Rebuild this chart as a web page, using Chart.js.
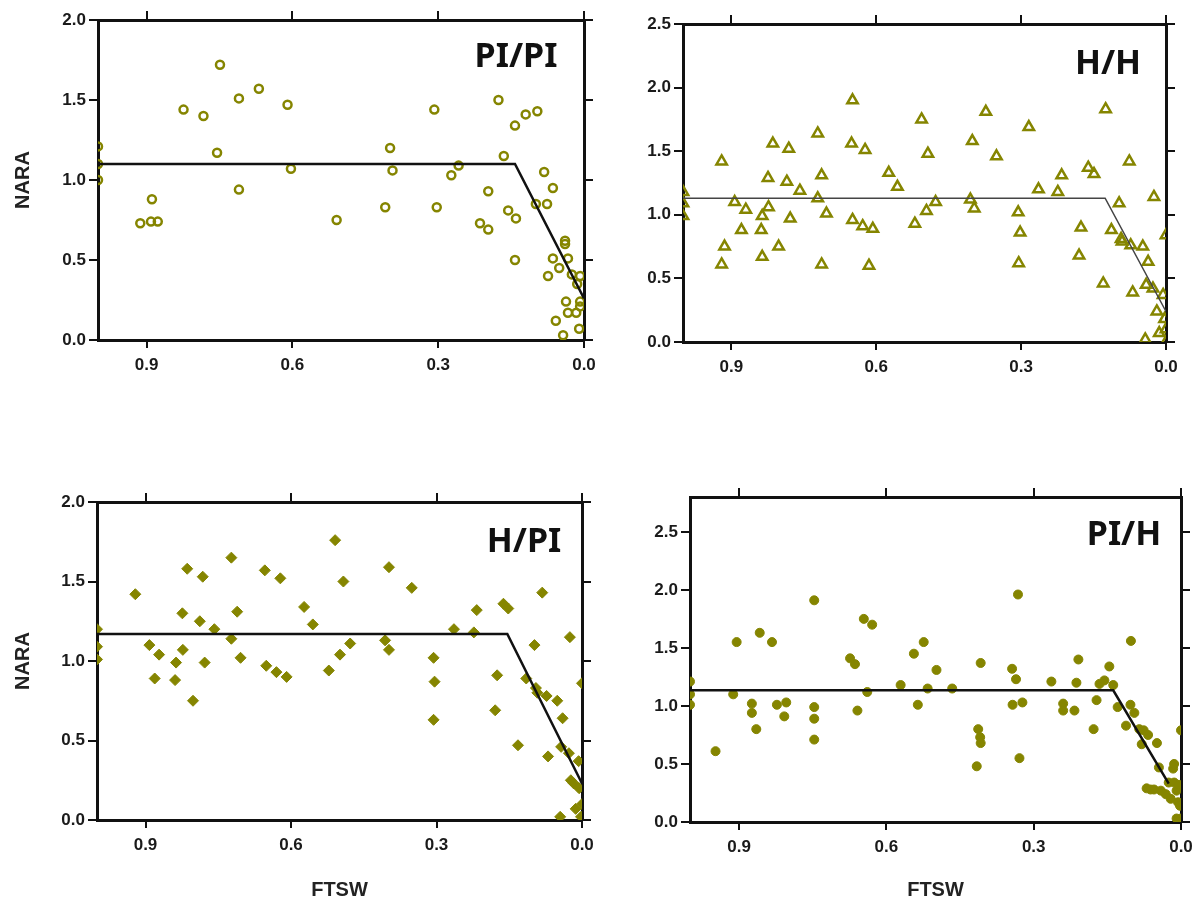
<!DOCTYPE html>
<html><head><meta charset="utf-8">
<script src="https://cdn.jsdelivr.net/npm/chart.js@4/dist/chart.umd.min.js"></script>
<style>
html,body{margin:0;padding:0;background:#fff;width:1202px;height:903px;overflow:hidden;position:relative}
canvas{position:absolute}
</style></head><body>
<canvas id="c1" width="640" height="420" style="left:0;top:0"></canvas>
<canvas id="c2" width="640" height="420" style="left:600px;top:0"></canvas>
<canvas id="c3" width="640" height="443" style="left:0;top:460px"></canvas>
<canvas id="c4" width="640" height="443" style="left:600px;top:460px"></canvas>
<script>
// ---------- data ----------
const xTicks = [0.9, 0.6, 0.3, 0.0];
const yTicks2 = [0, 0.5, 1.0, 1.5, 2.0];
const yTicks25 = [0, 0.5, 1.0, 1.5, 2.0, 2.5];
const panelNames = ['PI/PI', 'H/H', 'H/PI', 'PI/H'];

const ppX = [1.0,1.0,1.0,0.913,0.889,0.891,0.877,0.824,0.783,0.755,0.749,0.710,0.710,0.669,0.610,0.603,0.509,0.409,0.399,0.394,0.308,0.303,0.273,0.258,
  0.214,0.197,0.197,0.176,0.165,0.156,0.142,0.140,0.142,0.120,0.096,0.099,0.082,0.076,0.064,0.064,0.074,0.051,0.039,0.039,0.033,0.025,0.008,0.014,0.037,0.008,0.033,0.016,0.008,0.058,0.010,0.043];
const ppY = [1.21,1.10,1.00,0.73,0.88,0.74,0.74,1.44,1.40,1.17,1.72,1.51,0.94,1.57,1.47,1.07,0.75,0.83,1.20,1.06,1.44,0.83,1.03,1.09,
  0.73,0.93,0.69,1.50,1.15,0.81,1.34,0.76,0.50,1.41,1.43,0.85,1.05,0.85,0.95,0.51,0.40,0.45,0.62,0.60,0.51,0.41,0.40,0.35,0.24,0.24,0.17,0.17,0.21,0.12,0.07,0.03];
const ppFitX = [1.0, 0.142, 0.0];
const ppFitY = [1.10, 1.10, 0.26];

const hhX = [1.0,1.0,1.0,0.920,0.920,0.914,0.893,0.879,0.870,0.838,0.836,0.836,0.824,0.823,0.814,0.802,0.785,0.781,0.778,0.758,0.721,0.721,0.713,0.713,0.703,
  0.649,0.651,0.649,0.628,0.623,0.615,0.607,0.574,0.556,0.520,0.506,0.496,0.493,0.477,0.405,0.401,0.397,0.373,0.351,0.306,0.302,0.305,0.284,0.264,
  0.224,0.216,0.180,0.176,0.161,0.149,0.130,0.125,0.113,0.097,0.093,0.091,0.076,0.073,0.069,0.048,0.043,0.037,0.041,0.027,0.025,0.019,0.014,0.006,0.003,0.0,0.0,0.0];
const hhY = [1.18,1.09,0.99,1.42,0.61,0.75,1.10,0.88,1.04,0.88,0.99,0.67,1.29,1.06,1.56,0.75,1.26,1.52,0.97,1.19,1.64,1.13,1.31,0.61,1.01,
  1.90,1.56,0.96,0.91,1.51,0.60,0.89,1.33,1.22,0.93,1.75,1.03,1.48,1.10,1.12,1.58,1.05,1.81,1.46,1.02,0.86,0.62,1.69,1.20,
  1.18,1.31,0.68,0.90,1.37,1.32,0.46,1.83,0.88,1.09,0.81,0.79,1.42,0.76,0.39,0.75,0.02,0.63,0.45,0.42,1.14,0.24,0.07,0.37,0.18,0.84,0.10,0.0];
const hhFitX = [1.0, 0.126, 0.0];
const hhFitY = [1.13, 1.13, 0.24];

const hpX = [1.0,1.0,1.0,0.921,0.892,0.881,0.872,0.837,0.839,0.824,0.823,0.814,0.802,0.788,0.782,0.778,0.758,0.723,0.723,0.711,0.704,0.654,0.651,0.630,0.622,0.609,
  0.573,0.555,0.522,0.509,0.499,0.492,0.478,0.406,0.398,0.398,0.351,0.306,0.304,0.306,0.264,0.223,0.217,0.179,0.175,0.162,0.152,0.132,0.115,0.098,0.095,0.092,
  0.082,0.073,0.070,0.051,0.040,0.043,0.045,0.027,0.025,0.023,0.017,0.013,0.007,0.006,0.0,0.0,0.002];
const hpY = [1.20,1.09,1.01,1.42,1.10,0.89,1.04,0.99,0.88,1.30,1.07,1.58,0.75,1.25,1.53,0.99,1.20,1.65,1.14,1.31,1.02,1.57,0.97,0.93,1.52,0.90,
  1.34,1.23,0.94,1.76,1.04,1.50,1.11,1.13,1.59,1.07,1.46,1.02,0.87,0.63,1.20,1.18,1.32,0.69,0.91,1.36,1.33,0.47,0.89,1.10,0.83,0.80,
  1.43,0.78,0.40,0.75,0.64,0.46,0.02,0.42,1.15,0.25,0.23,0.07,0.37,0.20,0.86,0.10,0.02];
const hpFitX = [1.0, 0.154, 0.0];
const hpFitY = [1.17, 1.17, 0.23];

const phX = [1.0,1.0,1.0,0.948,0.912,0.905,0.874,0.874,0.865,0.858,0.833,0.823,0.804,0.808,0.747,0.747,0.747,0.747,0.674,0.664,0.659,0.646,0.639,0.629,
  0.571,0.544,0.536,0.524,0.516,0.498,0.466,0.416,0.413,0.409,0.408,0.408,0.344,0.343,0.336,0.332,0.329,0.323,0.264,0.240,0.240,0.217,0.213,0.209,
  0.178,0.172,0.166,0.156,0.146,0.138,0.129,0.112,0.103,0.102,0.095,0.085,0.080,0.076,0.067,0.070,0.062,0.049,0.055,0.045,0.041,0.031,0.025,0.021,
  0.016,0.014,0.014,0.009,0.006,0.004,0.002,0.0,0.0,0.009];
const phY = [1.21,1.10,1.01,0.61,1.10,1.55,1.02,0.94,0.80,1.63,1.55,1.01,1.03,0.91,1.91,0.99,0.89,0.71,1.41,1.36,0.96,1.75,1.12,1.70,
  1.18,1.45,1.01,1.55,1.15,1.31,1.15,0.48,0.80,0.73,0.68,1.37,1.32,1.01,1.23,1.96,0.55,1.03,1.21,1.02,0.96,0.96,1.20,1.40,
  0.80,1.05,1.19,1.22,1.34,1.18,0.99,0.83,1.01,1.56,0.94,0.80,0.67,0.79,0.75,0.29,0.28,0.68,0.28,0.47,0.27,0.24,0.34,0.20,
  0.46,0.50,0.34,0.27,0.17,0.32,0.14,0.79,0.03,0.03];
const phFitX = [1.0, 0.138, 0.025];
const phFitY = [1.135, 1.135, 0.33];

// ---------- styling ----------
const OLIVE = '#858500';
const AX = '#111';
const TICKFONT = {family:'"Liberation Sans", Arial, sans-serif', size:17, weight:'bold'};
const TITLEFONT = {family:'"Liberation Sans", Arial, sans-serif', size:20, weight:'bold'};

const pts = (xs, ys) => xs.map((x, i) => ({x, y: ys[i]}));

const panelLabel = {
  id: 'panelLabel',
  afterDraw(chart, args, opts) {
    const {ctx, chartArea: a} = chart;
    ctx.save();
    ctx.font = '700 34px "Noto Sans", "Liberation Sans", sans-serif';
    ctx.fillStyle = '#111';
    ctx.textAlign = 'center';
    ctx.textBaseline = 'middle';
    ctx.fillText(opts.text, a.right - opts.dx, a.top + opts.dy);
    ctx.restore();
  }
};

function makePanel(id, cfg) {
  const setTicks = arr => s => { s.ticks = arr.map(v => ({value: v})); };
  const common = {
    border: {display: true, color: AX, width: 3},
    grid: {drawOnChartArea: false, drawTicks: true, tickLength: 9, color: AX, lineWidth: 2}
  };
  new Chart(document.getElementById(id), {
    type: 'scatter',
    data: {
      datasets: [
        {data: pts(cfg.x, cfg.y), pointStyle: cfg.style, pointRadius: cfg.radius,
         pointBorderWidth: cfg.bw, pointBackgroundColor: cfg.filled ? OLIVE : 'rgba(255,255,255,0)',
         pointBorderColor: OLIVE, order: 2},
        {data: pts(cfg.fx, cfg.fy), type: 'line', showLine: true, pointRadius: 0,
         borderColor: cfg.lineColor, borderWidth: cfg.lineWidth, fill: false, order: 1}
      ]
    },
    options: {
      responsive: false, animation: false, devicePixelRatio: 1,
      layout: {padding: 0},
      plugins: {legend: {display: false}, tooltip: {enabled: false},
        panelLabel: {text: cfg.name, dx: cfg.ldx, dy: cfg.ldy}},
      scales: {
        x: {type: 'linear', position: 'bottom', min: 0, max: 1, reverse: true,
          afterBuildTicks: setTicks(xTicks),
          afterFit: s => { s.height = cfg.xH; },
          border: common.border,
          grid: {drawOnChartArea: false, drawTicks: true, tickLength: 8, color: AX, lineWidth: 2},
          ticks: {autoSkip: false, padding: 7, color: '#1a1a1a', font: TICKFONT, maxRotation: 0,
            callback: v => Number(v).toFixed(1)},
          title: {display: cfg.xTitle, text: 'FTSW', color: '#222', font: TITLEFONT, padding: {top: 0, bottom: 1}}
        },
        x2: {type: 'linear', position: 'top', min: 0, max: 1, reverse: true,
          afterBuildTicks: setTicks(xTicks),
          afterFit: s => { s.height = cfg.x2H; },
          border: common.border, grid: common.grid,
          ticks: {display: false}
        },
        y: {type: 'linear', position: 'left', min: 0, max: cfg.ymax,
          afterBuildTicks: setTicks(cfg.yt),
          afterFit: s => { s.width = cfg.yW; },
          border: common.border, grid: common.grid,
          ticks: {autoSkip: false, padding: 3, color: '#1a1a1a', font: TICKFONT,
            callback: v => Number(v).toFixed(1)},
          title: {display: cfg.yTitle, text: 'NARA', color: '#222', font: TITLEFONT, padding: {top: 11, bottom: 0}}
        },
        y2: {type: 'linear', position: 'right', min: 0, max: cfg.ymax,
          afterBuildTicks: setTicks(cfg.yt),
          afterFit: s => { s.width = cfg.y2W; },
          border: common.border, grid: common.grid,
          ticks: {display: false}
        }
      }
    },
    plugins: [panelLabel]
  });
}

makePanel('c1', {x: ppX, y: ppY, fx: ppFitX, fy: ppFitY, name: panelNames[0], style: 'circle', radius: 4, bw: 2.5, filled: false,
  lineColor: '#111', lineWidth: 2.5, ymax: 2.0, yt: yTicks2, yW: 98, y2W: 56, x2H: 20, xH: 80,
  xTitle: false, yTitle: true, ldx: 68, ldy: 37});
makePanel('c2', {x: hhX, y: hhY, fx: hhFitX, fy: hhFitY, name: panelNames[1], style: 'triangle', radius: 6, bw: 2.5, filled: false,
  lineColor: '#444', lineWidth: 1.5, ymax: 2.5, yt: yTicks25, yW: 83, y2W: 74, x2H: 24, xH: 78,
  xTitle: false, yTitle: false, ldx: 58, ldy: 40});
makePanel('c3', {x: hpX, y: hpY, fx: hpFitX, fy: hpFitY, name: panelNames[2], style: 'rectRot', radius: 5.5, bw: 1, filled: true,
  lineColor: '#111', lineWidth: 2.5, ymax: 2.0, yt: yTicks2, yW: 97, y2W: 58, x2H: 42, xH: 83,
  xTitle: true, yTitle: true, ldx: 58, ldy: 40});
makePanel('c4', {x: phX, y: phY, fx: phFitX, fy: phFitY, name: panelNames[3], style: 'circle', radius: 4.5, bw: 1, filled: true,
  lineColor: '#111', lineWidth: 2.5, ymax: 2.8, yt: yTicks25, yW: 90, y2W: 59, x2H: 37, xH: 81,
  xTitle: true, yTitle: false, ldx: 57, ldy: 38});
</script>
</body></html>
